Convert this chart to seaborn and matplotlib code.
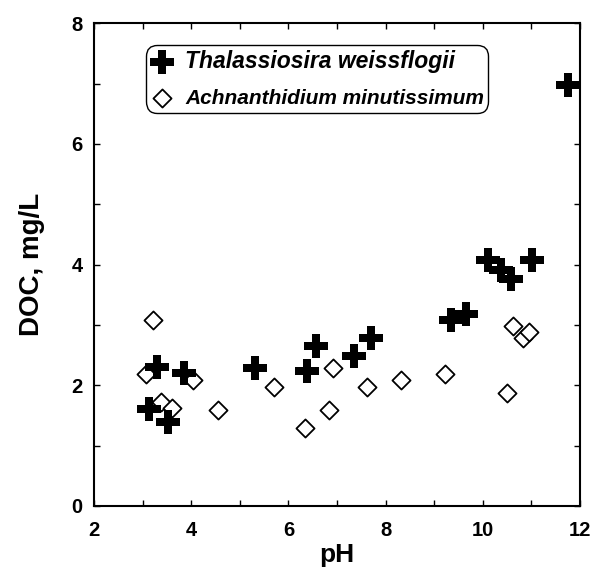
import matplotlib
matplotlib.use("Agg")
import matplotlib.pyplot as plt
from matplotlib.ticker import MultipleLocator
import seaborn as sns

# pH and dissolved organic carbon (mg/L) for each diatom culture
thal_ph = [3.14, 3.30, 3.52, 3.85, 5.31, 6.39, 6.56, 7.35, 7.71, 9.34, 9.65,
           10.11, 10.37, 10.59, 11.02, 11.75]
thal_doc = [1.60, 2.30, 1.40, 2.20, 2.29, 2.24, 2.65, 2.49, 2.79, 3.08, 3.18,
            4.08, 3.91, 3.77, 4.08, 6.98]

achn_ph = [3.08, 3.22, 3.38, 3.60, 4.04, 4.56, 5.71, 6.34, 6.84, 6.92, 7.62,
           8.31, 9.22, 10.50, 10.63, 10.82, 10.96]
achn_doc = [2.19, 3.09, 1.73, 1.62, 2.08, 1.59, 1.98, 1.29, 1.59, 2.28, 1.98,
            2.09, 2.18, 1.88, 2.98, 2.78, 2.89]

species = ["Thalassiosira weissflogii", "Achnanthidium minutissimum"]
x_ticks = [2, 4, 6, 8, 10, 12]
y_ticks = [0, 2, 4, 6, 8]

sns.set_style("ticks")
plt.rcParams["font.family"] = ["Liberation Sans", "DejaVu Sans"]
plt.rcParams["text.color"] = "black"
plt.rcParams["axes.labelcolor"] = "black"
plt.rcParams["xtick.color"] = "black"
plt.rcParams["ytick.color"] = "black"

fig = plt.figure(figsize=(5.94, 5.72), dpi=100)
ax = fig.add_axes([0.1582, 0.1154, 0.8182, 0.8439])

sns.scatterplot(x=thal_ph, y=thal_doc, marker="P", s=300, color="black",
                linewidth=0, label=species[0], ax=ax, zorder=3)
sns.scatterplot(x=achn_ph, y=achn_doc, marker="D", s=85, facecolor="white",
                edgecolor="black", linewidth=1.3, label=species[1], ax=ax,
                zorder=2)

ax.set_xlim(2, 12)
ax.set_ylim(0, 8)
ax.set_xticks(x_ticks)
ax.set_yticks(y_ticks)
ax.xaxis.set_minor_locator(MultipleLocator(1))
ax.yaxis.set_minor_locator(MultipleLocator(1))
ax.tick_params(which="both", direction="in", top=True, right=True,
               length=4, width=1.0, color="black")
ax.tick_params(axis="x", which="major", pad=11, labelsize=14.5,
               labelcolor="black")
ax.tick_params(axis="y", which="major", pad=8, labelsize=14.5,
               labelcolor="black")
for lbl in ax.get_xticklabels() + ax.get_yticklabels():
    lbl.set_fontweight("bold")

for sp in ax.spines.values():
    sp.set_linewidth(1.5)
    sp.set_color("black")

ax.set_xlabel("pH", fontsize=19, fontweight="bold", labelpad=2,
              color="black")
ax.set_ylabel("DOC, mg/L", fontsize=20, fontweight="bold", labelpad=19,
              color="black")

leg = ax.legend(
    loc="upper left", bbox_to_anchor=(0.107, 0.955), borderaxespad=0,
    frameon=True, fancybox=True,
    prop={"family": "Liberation Sans", "weight": "bold",
          "style": "italic", "size": 16.5},
    handlelength=1.0, handletextpad=0.5, borderpad=0.2, labelspacing=0.68)
leg.get_texts()[1].set_fontsize(15)
frame = leg.get_frame()
frame.set_edgecolor("black")
frame.set_linewidth(1.0)
frame.set_alpha(1)
frame.set_boxstyle("round,pad=0,rounding_size=0.5")

fig.savefig("out.png", dpi=100)
